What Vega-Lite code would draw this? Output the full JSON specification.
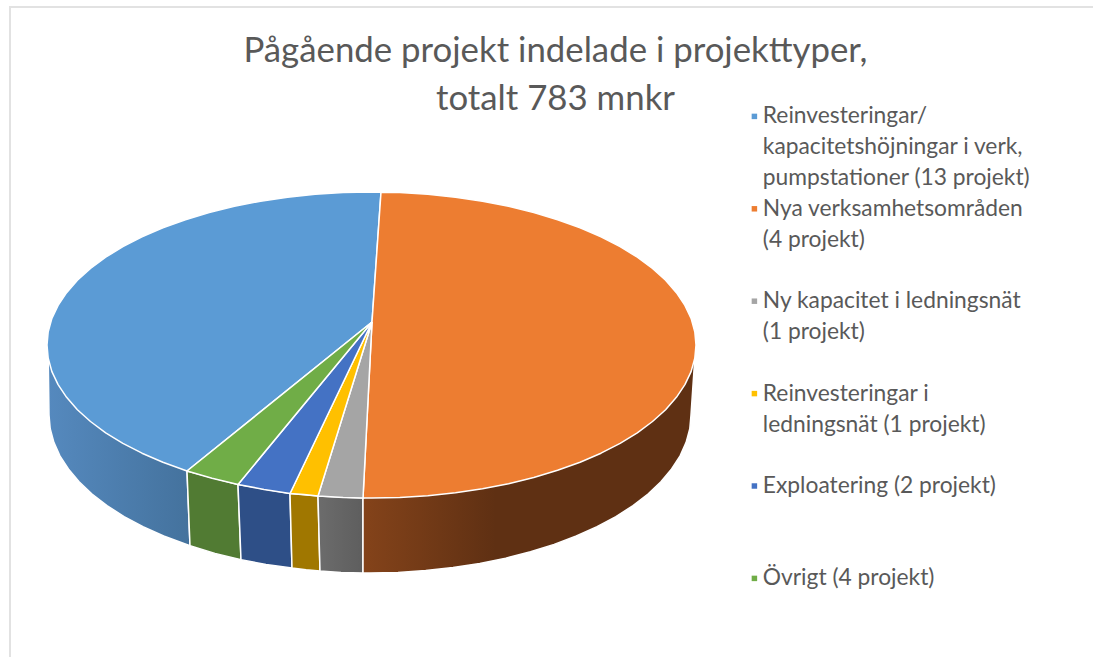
{
"$schema":"https://vega.github.io/schema/vega-lite/v6.json",
"width":1093,"height":657,"padding":0,"autosize":"none","background":"white",
"view":{"stroke":null},
"config":{"style":{"guide-label":{"lineHeight":31}}},
"title":{"text":["Pågående projekt indelade i projekttyper,","totalt 783 mnkr"],"font":"Lato","fontSize":34.8,"fontWeight":"normal","color":"#595959","anchor":"middle","frame":"group","baseline":"top","offset":0,"dx":9,"dy":118,"lineHeight":48},
"datasets":{
"frame":[{"n":1,"x":10,"y":657},{"n":2,"x":10,"y":7},{"n":3,"x":1093,"y":7}],
"wall":[
{"w":"blue","n":1,"x":187,"y":471},{"w":"blue","n":2,"x":48.2,"y":358.3},{"w":"blue","n":3,"x":49,"y":415},{"w":"blue","n":4,"x":50.2,"y":428.8},{"w":"blue","n":5,"x":53.9,"y":442.4},{"w":"blue","n":6,"x":59.9,"y":455.9},{"w":"blue","n":7,"x":68.4,"y":469},{"w":"blue","n":8,"x":79.1,"y":481.8},{"w":"blue","n":9,"x":92,"y":494},{"w":"blue","n":10,"x":107,"y":505.6},{"w":"blue","n":11,"x":124.1,"y":516.6},{"w":"blue","n":12,"x":143,"y":526.7},{"w":"blue","n":13,"x":163.7,"y":536},{"w":"blue","n":14,"x":190,"y":545.8},{"w":"blue","n":15,"x":187,"y":471},
{"w":"green","n":1,"x":238,"y":484.4},{"w":"green","n":2,"x":187,"y":471},{"w":"green","n":3,"x":190,"y":545.8},{"w":"green","n":4,"x":215,"y":553.4},{"w":"green","n":5,"x":241,"y":559.7},{"w":"green","n":6,"x":238,"y":484.4},
{"w":"navy","n":1,"x":290,"y":493.5},{"w":"navy","n":2,"x":238,"y":484.4},{"w":"navy","n":3,"x":241,"y":559.7},{"w":"navy","n":4,"x":266,"y":564.5},{"w":"navy","n":5,"x":292,"y":568},{"w":"navy","n":6,"x":290,"y":493.5},
{"w":"yellow","n":1,"x":318,"y":496},{"w":"yellow","n":2,"x":290,"y":493.5},{"w":"yellow","n":3,"x":292,"y":568},{"w":"yellow","n":4,"x":306,"y":569.8},{"w":"yellow","n":5,"x":320,"y":571},{"w":"yellow","n":6,"x":318,"y":496},
{"w":"gray","n":1,"x":363,"y":498},{"w":"gray","n":2,"x":318,"y":496},{"w":"gray","n":3,"x":320,"y":571},{"w":"gray","n":4,"x":341,"y":572.4},{"w":"gray","n":5,"x":363,"y":573},{"w":"gray","n":6,"x":363,"y":498},
{"w":"orange","n":1,"x":363,"y":498},{"w":"orange","n":2,"x":694.8,"y":358.3},{"w":"orange","n":3,"x":691,"y":415},{"w":"orange","n":4,"x":689.8,"y":428.8},{"w":"orange","n":5,"x":686.1,"y":442.4},{"w":"orange","n":6,"x":680.1,"y":455.9},{"w":"orange","n":7,"x":671.6,"y":469},{"w":"orange","n":8,"x":660.9,"y":481.8},{"w":"orange","n":9,"x":648,"y":494},{"w":"orange","n":10,"x":633,"y":505.6},{"w":"orange","n":11,"x":615.9,"y":516.6},{"w":"orange","n":12,"x":597,"y":526.7},{"w":"orange","n":13,"x":576.3,"y":536},{"w":"orange","n":14,"x":554.1,"y":544.4},{"w":"orange","n":15,"x":530.5,"y":551.8},{"w":"orange","n":16,"x":505.7,"y":558.2},{"w":"orange","n":17,"x":479.8,"y":563.5},{"w":"orange","n":18,"x":453.1,"y":567.6},{"w":"orange","n":19,"x":425.7,"y":570.6},{"w":"orange","n":20,"x":398,"y":572.4},{"w":"orange","n":21,"x":370,"y":573},{"w":"orange","n":22,"x":363,"y":573},{"w":"orange","n":23,"x":363,"y":498}
],
"top":[
{"s":"Reinvesteringar/|kapacitetshöjningar i verk,|pumpstationer (13 projekt)","n":1,"x":372,"y":322},{"s":"Reinvesteringar/|kapacitetshöjningar i verk,|pumpstationer (13 projekt)","n":2,"x":187,"y":471},{"s":"Reinvesteringar/|kapacitetshöjningar i verk,|pumpstationer (13 projekt)","n":3,"x":162.9,"y":462.2},{"s":"Reinvesteringar/|kapacitetshöjningar i verk,|pumpstationer (13 projekt)","n":4,"x":142,"y":453.2},{"s":"Reinvesteringar/|kapacitetshöjningar i verk,|pumpstationer (13 projekt)","n":5,"x":122.9,"y":443.3},{"s":"Reinvesteringar/|kapacitetshöjningar i verk,|pumpstationer (13 projekt)","n":6,"x":105.7,"y":432.8},{"s":"Reinvesteringar/|kapacitetshöjningar i verk,|pumpstationer (13 projekt)","n":7,"x":90.5,"y":421.5},{"s":"Reinvesteringar/|kapacitetshöjningar i verk,|pumpstationer (13 projekt)","n":8,"x":77.4,"y":409.7},{"s":"Reinvesteringar/|kapacitetshöjningar i verk,|pumpstationer (13 projekt)","n":9,"x":66.6,"y":397.3},{"s":"Reinvesteringar/|kapacitetshöjningar i verk,|pumpstationer (13 projekt)","n":10,"x":58.1,"y":384.6},{"s":"Reinvesteringar/|kapacitetshöjningar i verk,|pumpstationer (13 projekt)","n":11,"x":51.9,"y":371.6},{"s":"Reinvesteringar/|kapacitetshöjningar i verk,|pumpstationer (13 projekt)","n":12,"x":48.2,"y":358.3},{"s":"Reinvesteringar/|kapacitetshöjningar i verk,|pumpstationer (13 projekt)","n":13,"x":47,"y":345},{"s":"Reinvesteringar/|kapacitetshöjningar i verk,|pumpstationer (13 projekt)","n":14,"x":48.2,"y":331.7},{"s":"Reinvesteringar/|kapacitetshöjningar i verk,|pumpstationer (13 projekt)","n":15,"x":51.9,"y":318.4},{"s":"Reinvesteringar/|kapacitetshöjningar i verk,|pumpstationer (13 projekt)","n":16,"x":58.1,"y":305.4},{"s":"Reinvesteringar/|kapacitetshöjningar i verk,|pumpstationer (13 projekt)","n":17,"x":66.6,"y":292.7},{"s":"Reinvesteringar/|kapacitetshöjningar i verk,|pumpstationer (13 projekt)","n":18,"x":77.4,"y":280.3},{"s":"Reinvesteringar/|kapacitetshöjningar i verk,|pumpstationer (13 projekt)","n":19,"x":90.5,"y":268.5},{"s":"Reinvesteringar/|kapacitetshöjningar i verk,|pumpstationer (13 projekt)","n":20,"x":105.7,"y":257.2},{"s":"Reinvesteringar/|kapacitetshöjningar i verk,|pumpstationer (13 projekt)","n":21,"x":122.9,"y":246.7},{"s":"Reinvesteringar/|kapacitetshöjningar i verk,|pumpstationer (13 projekt)","n":22,"x":142,"y":236.8},{"s":"Reinvesteringar/|kapacitetshöjningar i verk,|pumpstationer (13 projekt)","n":23,"x":162.9,"y":227.8},{"s":"Reinvesteringar/|kapacitetshöjningar i verk,|pumpstationer (13 projekt)","n":24,"x":185.4,"y":219.7},{"s":"Reinvesteringar/|kapacitetshöjningar i verk,|pumpstationer (13 projekt)","n":25,"x":209.2,"y":212.5},{"s":"Reinvesteringar/|kapacitetshöjningar i verk,|pumpstationer (13 projekt)","n":26,"x":234.4,"y":206.3},{"s":"Reinvesteringar/|kapacitetshöjningar i verk,|pumpstationer (13 projekt)","n":27,"x":260.5,"y":201.2},{"s":"Reinvesteringar/|kapacitetshöjningar i verk,|pumpstationer (13 projekt)","n":28,"x":287.5,"y":197.2},{"s":"Reinvesteringar/|kapacitetshöjningar i verk,|pumpstationer (13 projekt)","n":29,"x":315.2,"y":194.3},{"s":"Reinvesteringar/|kapacitetshöjningar i verk,|pumpstationer (13 projekt)","n":30,"x":343.2,"y":192.6},{"s":"Reinvesteringar/|kapacitetshöjningar i verk,|pumpstationer (13 projekt)","n":31,"x":371.5,"y":192},{"s":"Reinvesteringar/|kapacitetshöjningar i verk,|pumpstationer (13 projekt)","n":32,"x":381,"y":192.3},{"s":"Reinvesteringar/|kapacitetshöjningar i verk,|pumpstationer (13 projekt)","n":33,"x":372,"y":322},
{"s":"Nya verksamhetsområden|(4 projekt)","n":1,"x":372,"y":322},{"s":"Nya verksamhetsområden|(4 projekt)","n":2,"x":381,"y":192.3},{"s":"Nya verksamhetsområden|(4 projekt)","n":3,"x":399.8,"y":192.6},{"s":"Nya verksamhetsområden|(4 projekt)","n":4,"x":427.8,"y":194.3},{"s":"Nya verksamhetsområden|(4 projekt)","n":5,"x":455.5,"y":197.2},{"s":"Nya verksamhetsområden|(4 projekt)","n":6,"x":482.5,"y":201.2},{"s":"Nya verksamhetsområden|(4 projekt)","n":7,"x":508.6,"y":206.3},{"s":"Nya verksamhetsområden|(4 projekt)","n":8,"x":533.8,"y":212.5},{"s":"Nya verksamhetsområden|(4 projekt)","n":9,"x":557.6,"y":219.7},{"s":"Nya verksamhetsområden|(4 projekt)","n":10,"x":580.1,"y":227.8},{"s":"Nya verksamhetsområden|(4 projekt)","n":11,"x":601,"y":236.8},{"s":"Nya verksamhetsområden|(4 projekt)","n":12,"x":620.1,"y":246.7},{"s":"Nya verksamhetsområden|(4 projekt)","n":13,"x":637.3,"y":257.2},{"s":"Nya verksamhetsområden|(4 projekt)","n":14,"x":652.5,"y":268.5},{"s":"Nya verksamhetsområden|(4 projekt)","n":15,"x":665.6,"y":280.3},{"s":"Nya verksamhetsområden|(4 projekt)","n":16,"x":676.4,"y":292.7},{"s":"Nya verksamhetsområden|(4 projekt)","n":17,"x":684.9,"y":305.4},{"s":"Nya verksamhetsområden|(4 projekt)","n":18,"x":691.1,"y":318.4},{"s":"Nya verksamhetsområden|(4 projekt)","n":19,"x":694.8,"y":331.7},{"s":"Nya verksamhetsområden|(4 projekt)","n":20,"x":696,"y":345},{"s":"Nya verksamhetsområden|(4 projekt)","n":21,"x":694.8,"y":358.3},{"s":"Nya verksamhetsområden|(4 projekt)","n":22,"x":691.1,"y":371.6},{"s":"Nya verksamhetsområden|(4 projekt)","n":23,"x":684.9,"y":384.6},{"s":"Nya verksamhetsområden|(4 projekt)","n":24,"x":676.4,"y":397.3},{"s":"Nya verksamhetsområden|(4 projekt)","n":25,"x":665.6,"y":409.7},{"s":"Nya verksamhetsområden|(4 projekt)","n":26,"x":652.5,"y":421.5},{"s":"Nya verksamhetsområden|(4 projekt)","n":27,"x":637.3,"y":432.8},{"s":"Nya verksamhetsområden|(4 projekt)","n":28,"x":620.1,"y":443.3},{"s":"Nya verksamhetsområden|(4 projekt)","n":29,"x":601,"y":453.2},{"s":"Nya verksamhetsområden|(4 projekt)","n":30,"x":580.1,"y":462.2},{"s":"Nya verksamhetsområden|(4 projekt)","n":31,"x":557.6,"y":470.3},{"s":"Nya verksamhetsområden|(4 projekt)","n":32,"x":533.8,"y":477.5},{"s":"Nya verksamhetsområden|(4 projekt)","n":33,"x":508.6,"y":483.7},{"s":"Nya verksamhetsområden|(4 projekt)","n":34,"x":482.5,"y":488.8},{"s":"Nya verksamhetsområden|(4 projekt)","n":35,"x":455.5,"y":492.8},{"s":"Nya verksamhetsområden|(4 projekt)","n":36,"x":427.8,"y":495.7},{"s":"Nya verksamhetsområden|(4 projekt)","n":37,"x":399.8,"y":497.4},{"s":"Nya verksamhetsområden|(4 projekt)","n":38,"x":371.5,"y":498},{"s":"Nya verksamhetsområden|(4 projekt)","n":39,"x":363,"y":498},{"s":"Nya verksamhetsområden|(4 projekt)","n":40,"x":372,"y":322},
{"s":"Ny kapacitet i ledningsnät|(1 projekt)","n":1,"x":372,"y":322},{"s":"Ny kapacitet i ledningsnät|(1 projekt)","n":2,"x":363,"y":498},{"s":"Ny kapacitet i ledningsnät|(1 projekt)","n":3,"x":343.2,"y":497.4},{"s":"Ny kapacitet i ledningsnät|(1 projekt)","n":4,"x":318,"y":496},{"s":"Ny kapacitet i ledningsnät|(1 projekt)","n":5,"x":372,"y":322},
{"s":"Reinvesteringar i|ledningsnät (1 projekt)","n":1,"x":372,"y":322},{"s":"Reinvesteringar i|ledningsnät (1 projekt)","n":2,"x":318,"y":496},{"s":"Reinvesteringar i|ledningsnät (1 projekt)","n":3,"x":304,"y":494.6},{"s":"Reinvesteringar i|ledningsnät (1 projekt)","n":4,"x":290,"y":493.5},{"s":"Reinvesteringar i|ledningsnät (1 projekt)","n":5,"x":372,"y":322},
{"s":"Exploatering (2 projekt)","n":1,"x":372,"y":322},{"s":"Exploatering (2 projekt)","n":2,"x":290,"y":493.5},{"s":"Exploatering (2 projekt)","n":3,"x":264,"y":489.4},{"s":"Exploatering (2 projekt)","n":4,"x":238,"y":484.4},{"s":"Exploatering (2 projekt)","n":5,"x":372,"y":322},
{"s":"Övrigt (4 projekt)","n":1,"x":372,"y":322},{"s":"Övrigt (4 projekt)","n":2,"x":238,"y":484.4},{"s":"Övrigt (4 projekt)","n":3,"x":212,"y":478.2},{"s":"Övrigt (4 projekt)","n":4,"x":187,"y":471},{"s":"Övrigt (4 projekt)","n":5,"x":372,"y":322}
]
},
"encoding":{
"x":{"field":"x","type":"quantitative","scale":{"domain":[0,1093],"nice":false,"zero":false},"axis":null},
"y":{"field":"y","type":"quantitative","scale":{"domain":[657,0],"nice":false,"zero":false},"axis":null},
"order":{"field":"n","type":"quantitative"}
},
"layer":[
{"data":{"name":"frame"},"mark":{"type":"line","stroke":"#e2e2e2","strokeWidth":2,"clip":false}},
{"data":{"name":"wall"},"transform":[{"filter":"datum.w==='blue'"}],"mark":{"type":"line","stroke":"white","strokeWidth":1.5,"fill":{"gradient":"linear","x1":0,"y1":0,"x2":1,"y2":0,"stops":[{"offset":0,"color":"#5589be"},{"offset":1,"color":"#44729d"}]}}},
{"data":{"name":"wall"},"transform":[{"filter":"datum.w==='green'"}],"mark":{"type":"line","stroke":"white","strokeWidth":1.5,"fill":"#517b33"}},
{"data":{"name":"wall"},"transform":[{"filter":"datum.w==='navy'"}],"mark":{"type":"line","stroke":"white","strokeWidth":1.5,"fill":"#2e4f87"}},
{"data":{"name":"wall"},"transform":[{"filter":"datum.w==='yellow'"}],"mark":{"type":"line","stroke":"white","strokeWidth":1.5,"fill":"#a07700"}},
{"data":{"name":"wall"},"transform":[{"filter":"datum.w==='gray'"}],"mark":{"type":"line","stroke":"white","strokeWidth":1.5,"fill":{"gradient":"linear","x1":0,"y1":0,"x2":1,"y2":0,"stops":[{"offset":0,"color":"#6c6c6c"},{"offset":1,"color":"#5e5e5e"}]}}},
{"data":{"name":"wall"},"transform":[{"filter":"datum.w==='orange'"}],"mark":{"type":"line","stroke":"white","strokeWidth":1.5,"fill":{"gradient":"linear","x1":0,"y1":0,"x2":1,"y2":0,"stops":[{"offset":0,"color":"#84431a"},{"offset":0.4,"color":"#5f3013"},{"offset":1,"color":"#5f3013"}]}}},
{"data":{"name":"top"},"mark":{"type":"line","stroke":"white","strokeWidth":1.5,"strokeJoin":"round"},
"encoding":{"fill":{"field":"s","type":"nominal","scale":{"domain":["Reinvesteringar/|kapacitetshöjningar i verk,|pumpstationer (13 projekt)","Nya verksamhetsområden|(4 projekt)","Ny kapacitet i ledningsnät|(1 projekt)","Reinvesteringar i|ledningsnät (1 projekt)","Exploatering (2 projekt)","Övrigt (4 projekt)"],"range":["#5b9bd5","#ed7d31","#a5a5a5","#ffc000","#4472c4","#70ad47"]},
"legend":{"orient":"none","legendX":743,"legendY":105,"title":null,"symbolType":"square","symbolSize":30,"symbolStrokeWidth":0,"gridAlign":"all","rowPadding":6.4,"labelFont":"Lato","labelFontSize":22.8,"labelColor":"#595959","labelLimit":400,"labelOffset":-3,"labelExpr":"split(datum.label,'|')","encode":{"labels":{"update":{"baseline":{"value":"alphabetic"},"dy":{"value":7}}}}}}}}
]
}
